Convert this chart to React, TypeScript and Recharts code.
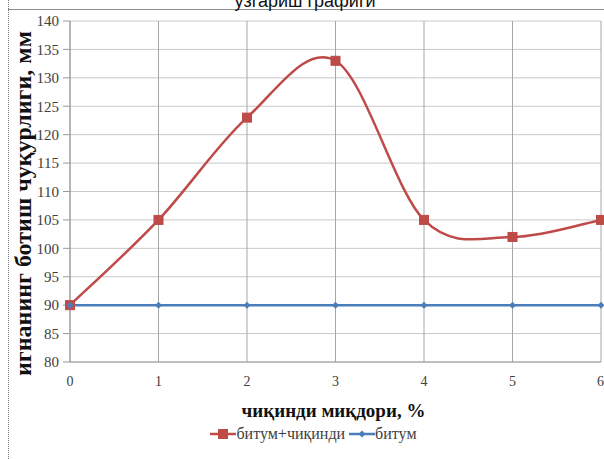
import { LineChart, Line, XAxis, YAxis, CartesianGrid, Legend } from 'recharts';

const amounts = [0, 1, 2, 3, 4, 5, 6];
const bitumWaste = [90, 105, 123, 133, 105, 102, 105];
const bitum = [90, 90, 90, 90, 90, 90, 90];
const yTicks = [80, 85, 90, 95, 100, 105, 110, 115, 120, 125, 130, 135, 140];

const data = amounts.map((x, i) => ({ x, waste: bitumWaste[i], bitum: bitum[i] }));

const RED = '#BE4B48';
const BLUE = '#4A7EBB';
const SERIF = '"Times New Roman", "Liberation Serif", "DejaVu Serif", serif';

// excel-like smoothed line (catmull-rom through the points)
function smoothCurve(context: any) {
  let xs: number[] = [];
  let ys: number[] = [];
  return {
    areaStart() {},
    areaEnd() {},
    lineStart() {
      xs = [];
      ys = [];
    },
    lineEnd() {
      const n = xs.length;
      if (!n) return;
      context.moveTo(xs[0], ys[0]);
      for (let i = 0; i < n - 1; i++) {
        const xp = i > 0 ? xs[i - 1] : xs[i];
        const yp = i > 0 ? ys[i - 1] : ys[i];
        const xn = i + 2 < n ? xs[i + 2] : xs[i + 1];
        const yn = i + 2 < n ? ys[i + 2] : ys[i + 1];
        context.bezierCurveTo(
          xs[i] + (xs[i + 1] - xp) / 6,
          ys[i] + (ys[i + 1] - yp) / 6,
          xs[i + 1] - (xn - xs[i]) / 6,
          ys[i + 1] - (yn - ys[i]) / 6,
          xs[i + 1],
          ys[i + 1]
        );
      }
    },
    point(x: number, y: number) {
      xs.push(+x);
      ys.push(+y);
    },
  };
}

const SquareDot = (props: any) => {
  const { cx, cy } = props;
  if (cx == null || cy == null) return null;
  return <rect x={cx - 4.5} y={cy - 4.5} width={9} height={9} fill={RED} stroke={RED} />;
};

const DiamondDot = (props: any) => {
  const { cx, cy } = props;
  if (cx == null || cy == null) return null;
  return <path d={`M${cx},${cy - 3.5}L${cx + 3.5},${cy}L${cx},${cy + 3.5}L${cx - 3.5},${cy}Z`} fill={BLUE} />;
};

const LegendContent = () => (
  <div style={{ display: 'flex', justifyContent: 'center', paddingLeft: 26, fontFamily: SERIF, fontSize: 16, color: '#404040' }}>
    <span style={{ display: 'flex', alignItems: 'center', marginRight: 4 }}>
      <svg width={26} height={12}>
        <line x1={0} y1={6} x2={26} y2={6} stroke={RED} strokeWidth={2.5} />
        <rect x={8} y={1} width={10} height={10} fill={RED} />
      </svg>
      <span>битум+чиқинди</span>
    </span>
    <span style={{ display: 'flex', alignItems: 'center' }}>
      <svg width={26} height={12}>
        <line x1={0} y1={6} x2={26} y2={6} stroke={BLUE} strokeWidth={2.5} />
        <path d="M13,2.5L16.5,6L13,9.5L9.5,6Z" fill={BLUE} />
      </svg>
      <span>битум</span>
    </span>
  </div>
);

const YLabel = (props: any) => {
  const { viewBox } = props;
  const cy = viewBox.y + viewBox.height / 2 + 12;
  return (
    <text
      x={23}
      y={cy}
      transform={`rotate(-90, 23, ${cy})`}
      textAnchor="middle"
      dominantBaseline="central"
      fontFamily={SERIF}
      fontWeight="bold"
      fontSize={24}
      fill="#111"
    >
      игнанинг ботиш чуқурлиги, мм
    </text>
  );
};

export default function App() {
  return (
    <div
      style={{
        position: 'absolute',
        left: 0,
        top: 0,
        width: 604,
        height: 459,
        overflow: 'hidden',
        background: '#fff',
        fontFamily: SERIF,
      }}
    >
      <div style={{ position: 'absolute', left: 8, top: 0, width: 0, height: 459, borderLeft: '1px dotted #777' }} />
      <div style={{ position: 'absolute', left: 8, top: 9, width: 596, height: 0, borderTop: '1px solid #8c8c8c' }} />
      <div
        style={{
          position: 'absolute',
          left: 0,
          top: -8,
          width: 610,
          textAlign: 'center',
          fontFamily: '"Liberation Sans", Arial, sans-serif',
          fontSize: 18,
          lineHeight: '18px',
          color: '#111',
        }}
      >
        ўзгариш графиги
      </div>
      <LineChart width={604} height={459} data={data} margin={{ top: 21, right: 3, left: 0, bottom: 10 }}>
        <CartesianGrid horizontal={true} vertical={false} stroke="#c8c8c8" />
        <CartesianGrid horizontal={false} vertical={true} stroke="#a6a6a6" />
        <XAxis
          dataKey="x"
          type="number"
          domain={[0, 6]}
          ticks={amounts}
          height={63}
          stroke="#9a9a9a"
          tickLine={false}
          tick={{ fontFamily: SERIF, fontSize: 14, fill: '#404040' }}
          tickMargin={8}
          label={{
            value: 'чиқинди миқдори, %',
            position: 'insideBottom',
            offset: 8,
            dx: -2,
            style: { fontFamily: SERIF, fontWeight: 'bold', fontSize: 19, fill: '#111' },
          }}
        />
        <YAxis
          domain={[80, 140]}
          ticks={yTicks}
          width={70}
          interval={0}
          stroke="#9a9a9a"
          tickSize={7}
          tick={{ fontFamily: SERIF, fontSize: 15, fill: '#404040' }}
          tickMargin={4}
          label={<YLabel />}
        />
        <Legend verticalAlign="bottom" height={24} content={<LegendContent />} />
        <Line
          dataKey="waste"
          type={smoothCurve as any}
          stroke={RED}
          strokeWidth={2.5}
          dot={<SquareDot />}
          activeDot={false}
          isAnimationActive={false}
        />
        <Line
          dataKey="bitum"
          type="linear"
          stroke={BLUE}
          strokeWidth={2.5}
          dot={<DiamondDot />}
          activeDot={false}
          isAnimationActive={false}
        />
      </LineChart>
    </div>
  );
}
